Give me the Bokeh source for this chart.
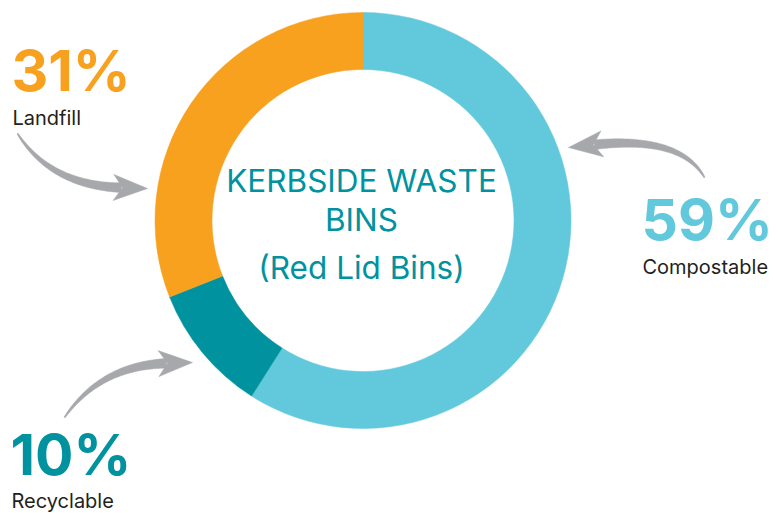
import numpy as np
from bokeh.plotting import figure
from bokeh.models import Range1d
from bokeh.core.properties import value
from bokeh.embed import file_html
from bokeh.resources import INLINE

# ---- data ----
categories = ["Compostable", "Recyclable", "Landfill"]
shares = [59, 10, 31]
colors = ["#62C9DC", "#00929F", "#F7A11F"]
pct_labels = ["59%", "10%", "31%"]
title_lines = ["KERBSIDE WASTE", "BINS", "(Red Lid Bins)"]

W, H = 778, 513


def px(x, y):
    """convert reference-image pixel coords to data coords"""
    return x, H - y


p = figure(width=W, height=H, output_backend="svg", toolbar_location=None,
           x_range=Range1d(0, W), y_range=Range1d(0, H), min_border=0)
p.axis.visible = False
p.grid.visible = False
p.outline_line_color = None
p.background_fill_color = "white"

# ---- donut ----
cx, cy = px(362.5, 220)
r_out, r_in = 208, 151
fr = np.array(shares, dtype=float) / sum(shares)
cum = np.concatenate([[0], np.cumsum(fr)])
start = np.pi / 2 - cum[:-1] * 2 * np.pi
end = np.pi / 2 - cum[1:] * 2 * np.pi
p.annular_wedge(x=cx, y=cy, inner_radius=r_in, outer_radius=r_out,
                start_angle=start, end_angle=end, direction="clock",
                fill_color=colors, line_color=colors, line_width=0.5)

# ---- centre title ----
tfont = value("Inter")
for line, yy in zip(title_lines, [180, 219, 267]):
    x0, y0 = px(361, yy)
    p.text(x=[x0], y=[y0], text=[line], text_font=tfont, text_font_size="31.5px",
           text_color="#00929F", text_align="center", text_baseline="middle")

# ---- labels ----
# (x_left, middle of pct, middle of name) in image pixels
label_pos = {"Landfill": (12, 70, 117), "Recyclable": (11, 453.5, 500),
             "Compostable": (642, 219, 266.5)}
for cat, pl, col in zip(categories, pct_labels, colors):
    xl, ym1, ym2 = label_pos[cat]
    x1, y1 = px(xl, ym1)
    p.text(x=[x1 - 1], y=[y1], text=[pl], text_font=tfont, text_font_size="57px",
           text_font_style="bold", text_color=col, text_align="left",
           text_baseline="middle")
    x2, y2 = px(xl, ym2)
    p.text(x=[x2], y=[y2], text=[cat], text_font=tfont, text_font_size="20px",
           text_color="#231F20", text_align="left", text_baseline="middle")

# ---- curved arrows ----
arrow_defs = [((17, 133), (50, 185), (147, 188)),
              ((64, 417), (100, 365), (192, 362)),
              ((704, 177), (680, 135), (568, 147))]
ARROW = "#A7A8AC"
for s, c, t in arrow_defs:
    P0 = np.array(px(*s), float)
    P1 = np.array(px(*c), float)
    T = np.array(px(*t), float)
    d = T - P1
    d /= np.linalg.norm(d)
    n = np.array([-d[1], d[0]])
    L, hw = 34, 13
    P2 = T - (L - 8) * d
    tt = np.linspace(0, 1, 60)[:, None]
    B = (1 - tt) ** 2 * P0 + 2 * tt * (1 - tt) * P1 + tt ** 2 * P2
    dB = 2 * (1 - tt) * (P1 - P0) + 2 * tt * (P2 - P1)
    dB /= np.linalg.norm(dB, axis=1)[:, None]
    nB = np.stack([-dB[:, 1], dB[:, 0]], axis=1)
    wdt = (0.6 + 4.2 * tt[:, 0] ** 0.8)[:, None]
    left = B + nB * wdt
    right = B - nB * wdt
    poly = np.vstack([left, right[::-1]])
    p.patch(poly[:, 0], poly[:, 1], fill_color=ARROW, line_color=ARROW, line_width=0.5)
    back = T - L * d
    notch = T - (L - 9) * d
    head = np.array([T, back + hw * n, notch, back - hw * n])
    p.patch(head[:, 0], head[:, 1], fill_color=ARROW, line_color=ARROW, line_width=0.5)

open("out.html", "w").write(file_html(p, INLINE))
